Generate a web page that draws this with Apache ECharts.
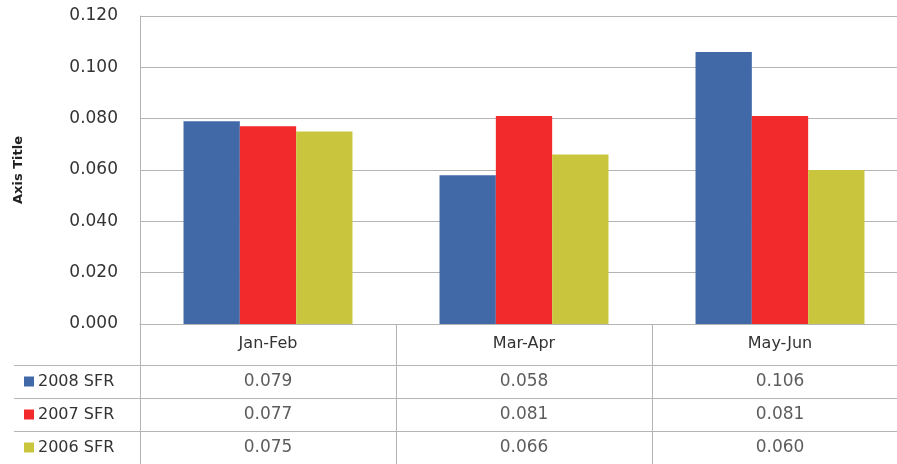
<!DOCTYPE html>
<html>
<head>
<meta charset="utf-8">
<script src="https://cdn.jsdelivr.net/npm/echarts@6/dist/echarts.min.js"></script>
<style>
html,body{margin:0;padding:0;background:#fff;overflow:hidden;}
#c{width:897px;height:464px;}
</style>
</head>
<body>
<div id="c"></div>
<script>
var categories = ['Jan-Feb', 'Mar-Apr', 'May-Jun'];
var seriesNames = ['2008 SFR', '2007 SFR', '2006 SFR'];
var sfr2008 = [0.079, 0.058, 0.106];
var sfr2007 = [0.077, 0.081, 0.081];
var sfr2006 = [0.075, 0.066, 0.060];
var yTicks = { min: 0, max: 0.12, interval: 0.02 };
var colors = ['#4169a8', '#f22a2c', '#c9c63e'];

var values = [sfr2008, sfr2007, sfr2006];
var FONT = 'DejaVu Sans';
var gridColor = '#b4b4b4';
var textColor = '#333';

var tableData = [];
values.forEach(function (arr, si) {
  arr.forEach(function (v, ci) {
    tableData.push([categories[ci], seriesNames[si], v]);
  });
});

var rich = {};
seriesNames.forEach(function (n, i) {
  rich['k' + i] = { width: 10, height: 10, backgroundColor: colors[i] };
});
rich.t = { fontFamily: FONT, fontSize: 16, color: textColor, padding: [0, 0, 0, 4] };

var chart = echarts.init(document.getElementById('c'), null, { renderer: 'canvas' });
chart.setOption({
  animation: false,
  backgroundColor: '#fff',
  grid: [
    { left: 140, width: 768, top: 16, height: 308, containLabel: false, outerBoundsMode: 'none' },
    { left: 140, width: 768, top: 365, height: 99, containLabel: false, outerBoundsMode: 'none' }
  ],
  xAxis: [
    {
      type: 'category', gridIndex: 0, data: categories,
      axisLine: { show: true, lineStyle: { color: gridColor, width: 1 } },
      axisTick: { show: true, length: 41, interval: 0, lineStyle: { color: gridColor } },
      axisLabel: { margin: 12, fontFamily: FONT, fontSize: 16, color: textColor },
      splitLine: { show: false }
    },
    {
      type: 'category', gridIndex: 1, data: categories, position: 'top',
      axisLine: { show: true, lineStyle: { color: gridColor, width: 1 } },
      axisTick: { show: false },
      axisLabel: { show: false },
      splitLine: { show: true, interval: 0, lineStyle: { color: gridColor } }
    }
  ],
  yAxis: [
    {
      type: 'value', gridIndex: 0, min: yTicks.min, max: yTicks.max, interval: yTicks.interval,
      name: 'Axis Title', nameLocation: 'middle', nameRotate: 90, nameGap: 115,
      nameTextStyle: { fontFamily: FONT, fontSize: 13, fontWeight: 'bold', color: '#222' },
      axisLine: { show: true, lineStyle: { color: gridColor } },
      axisTick: { show: false },
      axisLabel: { margin: 22, fontFamily: FONT, fontSize: 17, color: textColor,
        formatter: function (v) { return v.toFixed(3); } },
      splitLine: { show: true, lineStyle: { color: gridColor } }
    },
    {
      type: 'category', gridIndex: 1, data: seriesNames, inverse: true,
      axisLine: { show: true, lineStyle: { color: gridColor } },
      axisTick: { show: true, length: 126, interval: 0, lineStyle: { color: gridColor } },
      axisLabel: { margin: 116, align: 'left', interval: 0,
        formatter: function (v) { var i = seriesNames.indexOf(v); return '{k' + i + '|}{t|' + v + '}'; },
        rich: rich },
      splitLine: { show: true, interval: 0, lineStyle: { color: gridColor } }
    }
  ],
  series: [
    { name: seriesNames[0], type: 'bar', xAxisIndex: 0, yAxisIndex: 0, data: sfr2008,
      itemStyle: { color: colors[0] }, barGap: '0%', barCategoryGap: '34%' },
    { name: seriesNames[1], type: 'bar', xAxisIndex: 0, yAxisIndex: 0, data: sfr2007,
      itemStyle: { color: colors[1] }, barGap: '0%', barCategoryGap: '34%' },
    { name: seriesNames[2], type: 'bar', xAxisIndex: 0, yAxisIndex: 0, data: sfr2006,
      itemStyle: { color: colors[2] }, barGap: '0%', barCategoryGap: '34%' },
    { type: 'scatter', xAxisIndex: 1, yAxisIndex: 1, data: tableData, symbolSize: 0,
      silent: true,
      label: { show: true, position: 'inside', fontFamily: FONT, fontSize: 17, color: textColor,
        formatter: function (p) { return p.value[2].toFixed(3); } } }
  ]
});
</script>
</body>
</html>
